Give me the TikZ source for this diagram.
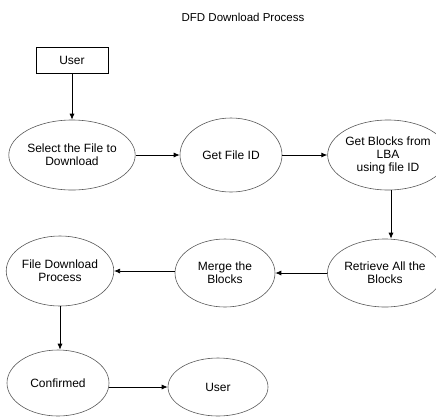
\documentclass[tikz,border=0pt]{standalone}
\usepackage{fontspec}
\setmainfont{Liberation Sans}
\usetikzlibrary{shapes.geometric,arrows.meta}
\begin{document}
\begin{tikzpicture}[x=1pt,y=-1pt,
  proc/.style={ellipse,draw=black!65,line width=0.6pt,inner sep=0pt,align=center,
    font=\fontsize{12}{13}\selectfont},
  ent/.style={rectangle,draw=black,line width=0.7pt,minimum width=72pt,minimum height=26pt,
    inner sep=0pt,font=\fontsize{12}{13}\selectfont},
  flow/.style={draw=black,line width=0.8pt,-{Latex[length=6pt,width=5pt]}}]
\useasboundingbox (0,0) rectangle (436,416);
\node[font=\fontsize{11.5}{13}\selectfont] (title) at (243,17) {DFD Download Process};
\node[ent] (user) at (72,60) {User};
\node[proc,minimum width=100pt,minimum height=70pt] (sel) at (72,155) {Select the File to\\ Download};
\node[proc,minimum width=102pt,minimum height=74pt] (gid) at (231,155) {Get File ID};
\node[proc,minimum width=96pt,minimum height=70pt] (gbl) at (388,155) {Get Blocks from\\LBA\\ using file ID};
\node[proc,minimum width=100pt,minimum height=68pt] (ret) at (385,273) {Retrieve All the\\Blocks};
\node[proc,minimum width=100pt,minimum height=68pt] (mrg) at (225,273) {Merge the\\Blocks};
\node[proc,minimum width=106pt,minimum height=70pt] (fdp) at (60,271) {File Download\\Process};
\node[proc,minimum width=102pt,minimum height=66pt] (con) at (58,383) {Confirmed};
\node[proc,minimum width=100pt,minimum height=58pt] (usr) at (218,387) {User};
\draw[flow] (user.south) -- (user.south |- sel.north);
\draw[flow] (sel.east) -- (sel.east -| gid.west);
\draw[flow] (gid.east) -- (gid.east -| gbl.west);
\draw[flow] (gbl.south) ++(3,0) coordinate (gs) -- (gs |- ret.north);
\draw[flow] (ret.west) -- (ret.west -| mrg.east);
\draw[flow] (mrg.west |- fdp.east) -- (fdp.east);
\draw[flow] (fdp.south) -- (fdp.south |- con.north);
\draw[flow] (usr.west -| con.east) -- (usr.west);
\end{tikzpicture}
\end{document}
